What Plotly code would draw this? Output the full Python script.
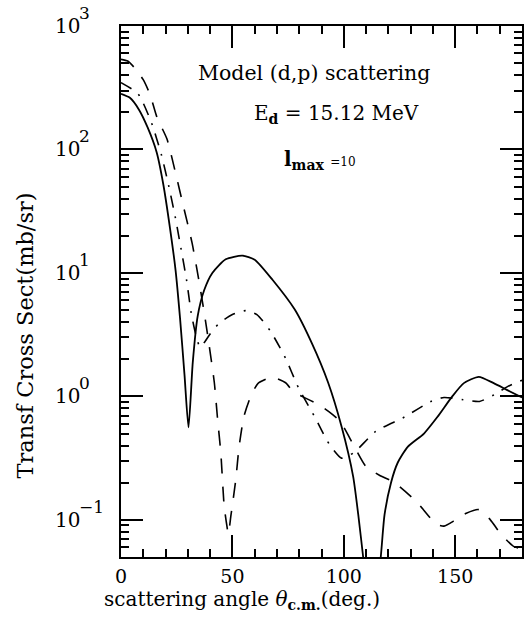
import plotly.graph_objects as go

# ---- data ----
solid_x = [0, 4, 8, 12, 16, 19, 22, 24.5, 26.5, 28.5, 30.3, 32.2, 34.4, 37.4, 41, 47, 54.5, 60, 68, 78,
           85.6, 93, 99, 104.2, 106.5, 108.7, 112.5, 116.6, 118.3, 121.2, 124.2, 128.7, 136, 142, 148.7,
           153.9, 160.6, 167.3, 173.2, 180]
solid_y = [282, 262, 211, 150, 95, 52, 23, 10.5, 4.3, 1.5, 0.56, 1.87, 4.45, 7.3, 10, 12.9, 13.8, 12.8, 8.8, 5.05,
           2.71, 1.29, 0.57, 0.225, 0.11, 0.05, 0.012, 0.05, 0.11, 0.2, 0.29, 0.39, 0.5, 0.68, 1.0,
           1.28, 1.44, 1.28, 1.13, 0.98]

dashdot_x = [0, 7.7, 13.7, 18.1, 21.5, 24.4, 27, 29.5, 31.5, 33.5, 35.5, 37.5, 40, 44, 50, 56, 61, 67.1, 73.8,
             79.7, 86.8, 93.5, 99, 104.5, 114.3, 127.2, 139.1, 145, 153.6, 160.9, 167.5, 173.5, 180]
dashdot_y = [348, 282, 164, 91, 50, 28, 15.5, 8.6, 4.75, 3.2, 2.5, 2.75, 3.2, 3.9, 4.6, 4.95, 4.6, 3.37, 2.05,
             1.17, 0.69, 0.41, 0.316, 0.35, 0.52, 0.68, 0.91, 0.98, 0.94, 0.91, 1.03, 1.2, 1.35]

dashed_x = [0, 3, 6, 9.9, 13, 16.2, 20.6, 24.1, 27.8, 31.9, 35.2, 38.2, 41.9, 43.3, 44.8, 46.3, 47.5, 48.2,
            49.3, 51.5, 53, 55.2, 58.9, 61.9, 67.8, 73.9, 77.5, 81.2, 88.6, 93, 98.3, 104.5, 110, 116, 122.8,
            132.7, 141.3, 145, 150.2, 155, 160.6, 165.8, 170.2, 176.2, 180]
dashed_y = [537, 520, 460, 369, 280, 181, 122, 69, 36, 17.5, 8.2, 3.8, 1.29, 0.67, 0.35, 0.13, 0.09, 0.077,
            0.107, 0.21, 0.39, 0.69, 1.07, 1.29, 1.43, 1.29, 1.08, 1.0, 0.86, 0.76, 0.63, 0.40, 0.27, 0.23, 0.2,
            0.14, 0.093, 0.089, 0.1, 0.113, 0.121, 0.1, 0.078, 0.061, 0.058]

x_tick_vals = [0, 50, 100, 150]
x_tick_text = ["0", "50", "100", "150"]
y_tick_exps = [3, 2, 1, 0, -1]

FONT = "DejaVu Serif"
W, H = 524, 621
ML, MR, MT, MB = 121, 0, 26, 64
PW, PH = W - ML - MR, H - MT - MB


def px(xp):
    return (xp - ML) / PW


def py(yp):
    return (H - MB - yp) / PH


fig = go.Figure()
fig.add_trace(go.Scatter(x=solid_x, y=solid_y, mode="lines",
                         line=dict(color="black", width=1.8, shape="spline", smoothing=0.6)))
fig.add_trace(go.Scatter(x=dashdot_x, y=dashdot_y, mode="lines",
                         line=dict(color="black", width=1.6, shape="spline", smoothing=0.6,
                                   dash="12px,9px,2px,9px")))
fig.add_trace(go.Scatter(x=dashed_x, y=dashed_y, mode="lines",
                         line=dict(color="black", width=1.6, shape="spline", smoothing=0.6,
                                   dash="15px,13px")))

minor_y = []
for d in range(-2, 3):
    for k in range(2, 10):
        v = k * 10 ** d
        if 0.05 <= v <= 1000:
            minor_y.append(v)

fig.update_xaxes(range=[0, 180], showline=True, linecolor="black", linewidth=1.5, mirror="allticks",
                 ticks="inside", ticklen=22, tickwidth=1.5, tickcolor="black",
                 tickvals=x_tick_vals, ticktext=x_tick_text, ticklabelstandoff=1,
                 tickfont=dict(family=FONT, size=19, color="black"),
                 minor=dict(ticks="inside", ticklen=8, tickwidth=1.5, tickcolor="black", dtick=10, showgrid=False),
                 showgrid=False, zeroline=False)
fig.update_yaxes(type="log", range=[-1.301, 3], showline=True, linecolor="black", linewidth=1.5,
                 mirror="allticks", ticks="inside", ticklen=22, tickwidth=1.5, tickcolor="black",
                 tickvals=[10 ** e for e in y_tick_exps], showticklabels=False,
                 minor=dict(ticks="inside", ticklen=8, tickwidth=1.5, tickcolor="black", tickvals=minor_y,
                            showgrid=False),
                 showgrid=False, zeroline=False)

ann = []
for e in y_tick_exps:
    ann.append(dict(x=px(53), y=e, xref="paper", yref="y", text="10", showarrow=False,
                    xanchor="left", yanchor="middle", font=dict(family=FONT, size=20, color="black")))
    ann.append(dict(x=px(77), y=e, xref="paper", yref="y", text=str(e).replace("-", "\u2212"),
                    showarrow=False, xanchor="left", yanchor="middle", yshift=13,
                    font=dict(family=FONT, size=17, color="black")))

ann.append(dict(x=px(102), y=py(600), xref="paper", yref="paper",
                text="scattering angle <i>θ</i><sub><b>c.m.</b></sub>(deg.)", showarrow=False,
                xanchor="left", yanchor="middle", font=dict(family=FONT, size=20, color="black")))
ann.append(dict(x=px(25), y=py(335), xref="paper", yref="paper", text="Transf Cross Sect(mb/sr)",
                textangle=-90, showarrow=False, xanchor="center", yanchor="middle",
                font=dict(family=FONT, size=22.5, color="black")))
ann.append(dict(x=px(196), y=py(73), xref="paper", yref="paper", text="Model (d,p) scattering",
                showarrow=False, xanchor="left", yanchor="middle", font=dict(family=FONT, size=20.5, color="black")))
ann.append(dict(x=px(253), y=py(114), xref="paper", yref="paper", text="E<sub><b>d</b></sub> = 15.12 MeV",
                showarrow=False, xanchor="left", yanchor="middle", font=dict(family=FONT, size=20, color="black")))
ann.append(dict(x=px(283), y=py(160), xref="paper", yref="paper",
                text="<b>l</b><sub><b>max</b></sub> <span style='font-size:12px'>=10</span>",
                showarrow=False, xanchor="left", yanchor="middle", font=dict(family=FONT, size=20, color="black")))

fig.update_layout(width=W, height=H, margin=dict(l=ML, r=MR, t=MT, b=MB, pad=0),
                  paper_bgcolor="white", plot_bgcolor="white", showlegend=False,
                  annotations=ann)

fig.write_html("out.html", config={"displayModeBar": False},
               post_script="document.body.style.margin='0';document.body.style.padding='0';"
                           "document.body.style.overflow='hidden';")
